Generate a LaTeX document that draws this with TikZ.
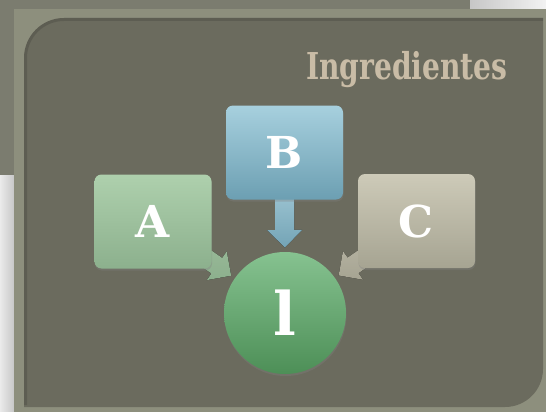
\documentclass[tikz,border=0pt]{standalone}
\usepackage{fontspec}
\usetikzlibrary{calc,shadows}
\newfontfamily\slabfont{DejaVu Serif}
\newfontfamily\titlefont{DejaVu Serif Condensed}

\pgfdeclarelayer{backdrop}
\pgfdeclarelayer{links}
\pgfsetlayers{backdrop,links,main}

\definecolor{pagegrey}{HTML}{DADADA}
\definecolor{slidegrey}{HTML}{7B7C6F}
\definecolor{framegrey}{HTML}{8D8F7D}
\definecolor{panelgrey}{HTML}{6B6B5E}
\definecolor{titlebeige}{HTML}{C9BCA6}
\definecolor{aTop}{HTML}{AED0AD}
\definecolor{aBot}{HTML}{8CB08D}
\definecolor{bTop}{HTML}{A7D0DE}
\definecolor{bBot}{HTML}{6C9FB2}
\definecolor{cTop}{HTML}{CDCAB8}
\definecolor{cBot}{HTML}{A6A492}
\definecolor{oTop}{HTML}{86C290}
\definecolor{oBot}{HTML}{4D8F57}

% block arrow from node #1 towards node #2, stopping short of #2's border
\newcommand\joinarrow[3]{%
  \coordinate (tip) at ($(#2.center)!65.5pt!(#1.center)$);
  \coordinate (hb)  at ($(#2.center)!83pt!(#1.center)$);
  \coordinate (se)  at ($(#2.center)!125pt!(#1.center)$);
  \fill[#3] (tip)
    -- ($(hb)!17.5pt!90:(tip)$) -- ($(hb)!9.5pt!90:(tip)$)
    -- ($(se)!9.5pt!90:(tip)$) -- ($(se)!9.5pt!-90:(tip)$)
    -- ($(hb)!9.5pt!-90:(tip)$) -- ($(hb)!17.5pt!-90:(tip)$) -- cycle;
}

\begin{document}
\begin{tikzpicture}[x=1pt,y=-1pt,
  box/.style={rectangle, rounded corners=7pt, inner sep=0pt,
    minimum width=117pt, minimum height=94pt, text=white,
    font=\slabfont\bfseries\fontsize{44}{44}\selectfont,
    drop shadow={shadow xshift=0.5pt, shadow yshift=-2pt, opacity=0.35}},
  hub/.style={circle, inner sep=0pt, minimum size=122pt, text=white,
    top color=oTop, bottom color=oBot,
    font=\slabfont\bfseries\fontsize{60}{60}\selectfont,
    drop shadow={shadow xshift=0.5pt, shadow yshift=-2pt, opacity=0.35}},
  arrowA/.style={top color=aTop!90!black, bottom color=aBot},
  arrowB/.style={top color=bTop!95!black, bottom color=bBot!95!white},
  arrowC/.style={top color=cTop!90!black, bottom color=cBot}]
\useasboundingbox (0,0) rectangle (546,412);

\begin{pgfonlayer}{backdrop}
  % page backdrop and the slide lying behind
  \fill[pagegrey] (0,0) rectangle (546,412);
  \shade[left color=white!92!black, right color=white!78!black] (0,175) rectangle (14,412);
  \shade[left color=white!78!black, right color=white!95!black] (470,0) rectangle (546,9);
  \fill[slidegrey] (0,0) rectangle (470,175);
  % frame and inner panel
  \fill[framegrey] (14,9) rectangle (546,412);
  \fill[panelgrey] (24,407) -- (24,58) arc (180:270:40) -- (543,18)
    -- (543,369) arc (0:90:38) -- cycle;
  \draw[black, opacity=0.12, line width=3pt] (25.5,405) -- (25.5,58)
    arc (180:270:38.5) -- (543,19.5);
\end{pgfonlayer}

% title
\node[anchor=base west, inner sep=0pt, text=titlebeige,
  font=\titlefont\bfseries\fontsize{37}{37}\selectfont] (title) at (306,80)
  {\scalebox{0.845}[1]{Ingredientes}};

% nodes
\node[hub] (out) at (285,313) {l};
\node[box, top color=aTop, bottom color=aBot] (A) at (153,221.5) {A};
\node[box, top color=bTop, bottom color=bBot] (B) at (284.5,152.5) {B};
\node[box, top color=cTop, bottom color=cBot] (C) at (416.5,221) {C};

% connectors, kept beneath the boxes
\begin{pgfonlayer}{links}
  \joinarrow{A}{out}{arrowA}
  \joinarrow{B}{out}{arrowB}
  \joinarrow{C}{out}{arrowC}
\end{pgfonlayer}
\end{tikzpicture}
\end{document}
